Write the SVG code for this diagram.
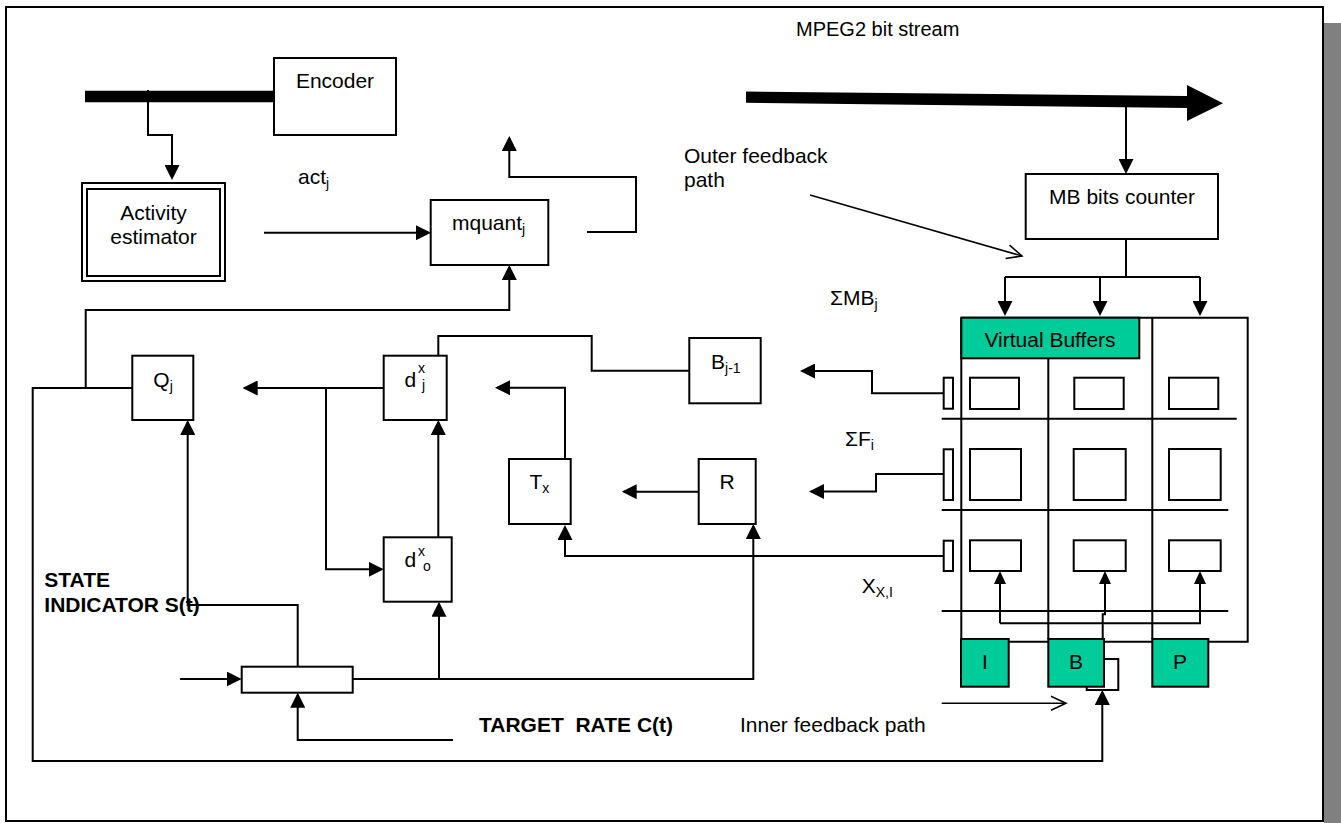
<svg xmlns="http://www.w3.org/2000/svg" width="1341" height="823" viewBox="0 0 1341 823">
<style>
text{font-family:"Liberation Sans",Arial,sans-serif;font-size:21px;fill:#000}
.b{font-weight:bold}
.s{font-size:14px}
.m{text-anchor:middle}
.box{fill:#fff;stroke:#000;stroke-width:2}
.g{fill:#00CC99;stroke:#000;stroke-width:2}
.ln{fill:none;stroke:#000;stroke-width:2}
.a{fill:none;stroke:#000;stroke-width:2;marker-end:url(#ah)}
.as{fill:none;stroke:#000;stroke-width:2;marker-end:url(#ahs)}
.ao{fill:none;stroke:#000;stroke-width:1.5;marker-end:url(#aho)}
</style>
<defs>
<marker id="ah" markerUnits="userSpaceOnUse" markerWidth="15" markerHeight="15" viewBox="0 0 15 15" refX="13" refY="7.5" orient="auto"><path d="M0,0 L15,7.5 L0,15 z" fill="#000"/></marker>
<marker id="ahs" markerUnits="userSpaceOnUse" markerWidth="13" markerHeight="12" viewBox="0 0 13 12" refX="11" refY="6" orient="auto"><path d="M0,0 L13,6 L0,12 z" fill="#000"/></marker>
<marker id="aho" markerUnits="userSpaceOnUse" markerWidth="18" markerHeight="16" viewBox="0 0 18 16" refX="16" refY="8" orient="auto"><path d="M1,1 L16,8 L1,15" fill="none" stroke="#000" stroke-width="1.5"/></marker>
</defs>
<rect x="0" y="0" width="1341" height="823" fill="#fff"/>
<rect x="1324" y="23" width="17" height="800" fill="#808080"/>
<rect x="6" y="7" width="1317" height="814" fill="#fff" stroke="#000" stroke-width="2"/>

<g id="connectors">
<line x1="85" y1="96.5" x2="275" y2="96.5" stroke="#000" stroke-width="11.5"/>
<polygon points="746,91.5 1187,96 1187,85 1223,103.3 1187,121 1187,108 746,102.8" fill="#000"/>
<path class="a" d="M148,90 V135 H172 V178"/>
<path class="a" d="M264,232.7 H429"/>
<path class="a" d="M587,232 H636 V177 H509.3 V138"/>
<path class="a" d="M1126,103 V172"/>
<path class="ln" d="M1126,239 V277 M1005,277 H1200"/>
<path class="a" d="M1005,277 V314"/>
<path class="a" d="M1100,277 V314"/>
<path class="a" d="M1200,277 V314"/>
<path class="ao" d="M810,195 L1022,256"/>
<path class="a" d="M943.7,393.3 H872 V371 H802"/>
<path class="a" d="M943.7,474 H876 V491.5 H811"/>
<path class="a" d="M943.7,556 H565 V527"/>
<path class="ln" d="M689.3,370.7 H591.7 V336 H438.3 V355.7"/>
<path class="a" d="M565,459 V387.7 H497"/>
<path class="a" d="M698.7,491.7 H623.7"/>
<path class="a" d="M383.7,388 H244.7"/>
<path class="a" d="M326,388 V569.3 H381.7"/>
<path class="a" d="M438.3,537.3 V422"/>
<path class="a" d="M132.3,388 H32.7 V761 H1102.3 V692"/>
<path class="a" d="M85.7,388 V310 H509.3 V267"/>
<path class="a" d="M297.7,666.7 V605 H187.7 V422"/>
<path class="a" d="M180,679 H239.7"/>
<path class="a" d="M453,740 H297.7 V694.7"/>
<path class="a" d="M352.7,679 H753.3 V526"/>
<path class="a" d="M439,679 V603.7"/>
<path class="ao" d="M941.7,703.3 H1066"/>
<path class="as" d="M1000,623.3 V573"/>
<path class="as" d="M1000,623.3 H1200 V573"/>
<path class="as" d="M1102.7,639 V614.3 H1105 V573"/>
<path class="ln" d="M1104,659 H1118.3 V690 H1086.7 V686.7"/>
<path class="ln" d="M961.3,317.7 H1247.7 V641.7 H1208.3 M961.3,317.7 V639 M1048.3,358 V639 M1152.3,317.7 V639 M1008.7,641.7 H1048.3 M1104,641.7 H1152.3"/>
<path class="ln" d="M941.7,418.7 H1236.7 M941.7,510 H1228.3 M941.7,611 H1228.3"/>
</g>

<g id="encoder"><rect class="box" x="274" y="58" width="122" height="77"/><text x="335" y="88" class="m">Encoder</text></g>
<g id="activity-estimator"><rect class="box" x="82" y="183" width="143" height="98"/><rect class="box" x="87" y="189" width="133" height="87"/><text x="153.5" y="220" class="m">Activity</text><text x="153.5" y="244" class="m">estimator</text></g>
<g id="mquant"><rect class="box" x="430.7" y="200" width="117.6" height="65"/><text x="452" y="230">mquant<tspan class="s" dy="4">j</tspan></text></g>
<g id="mb-bits-counter"><rect class="box" x="1025.7" y="174" width="192.3" height="65"/><text x="1122" y="204" class="m">MB bits counter</text></g>
<g id="qj"><rect class="box" x="132.3" y="355.7" width="61" height="64.3"/><text x="153.3" y="386.7">Q<tspan class="s" dy="4">j</tspan></text></g>
<g id="dxj"><rect class="box" x="383.7" y="355.7" width="63" height="64.3"/><text x="404.5" y="386.7">d</text><text x="418" y="373" class="s">x</text><text x="422" y="390" class="s">j</text></g>
<g id="bj1"><rect class="box" x="689.3" y="338" width="71.4" height="65.3"/><text x="711" y="369">B<tspan class="s" dy="4">j-1</tspan></text></g>
<g id="tx"><rect class="box" x="509" y="459" width="61.7" height="65"/><text x="529.5" y="489">T<tspan class="s" dy="4">x</tspan></text></g>
<g id="r"><rect class="box" x="698.7" y="459" width="57" height="65"/><text x="727" y="489" class="m">R</text></g>
<g id="dxo"><rect class="box" x="383.7" y="537.3" width="68" height="64.4"/><text x="404.5" y="566.7">d</text><text x="418" y="556" class="s">x</text><text x="423" y="571" class="s">o</text></g>
<g id="state-switch"><rect class="box" x="241.7" y="666.7" width="111" height="26"/></g>
<g id="virtual-buffers">
<rect class="g" x="961.3" y="317.7" width="178" height="40.6"/><text x="1050" y="347" class="m">Virtual Buffers</text>
<rect class="box" x="943.7" y="377.7" width="9.3" height="31"/>
<rect class="box" x="943.7" y="449.3" width="9.3" height="50.7"/>
<rect class="box" x="943.7" y="540.7" width="9.3" height="30.3"/>
<rect class="box" x="970" y="377.7" width="49" height="31.3"/>
<rect class="box" x="1074.3" y="377.7" width="49.4" height="31.3"/>
<rect class="box" x="1169" y="377.7" width="49.3" height="31.3"/>
<rect class="box" x="970" y="449" width="51" height="51"/>
<rect class="box" x="1073.7" y="449" width="52" height="51"/>
<rect class="box" x="1169" y="449" width="51.7" height="51"/>
<rect class="box" x="970" y="540.3" width="51" height="30.7"/>
<rect class="box" x="1073.7" y="540.3" width="52" height="30.7"/>
<rect class="box" x="1169" y="540.3" width="51.7" height="30.7"/>
</g>
<g id="frame-i"><rect class="g" x="961" y="639" width="47.7" height="47.7"/><text x="985" y="668.5" class="m">I</text></g>
<g id="frame-b"><rect class="g" x="1048.3" y="639" width="55.7" height="47.7"/><text x="1076" y="668.5" class="m">B</text></g>
<g id="frame-p"><rect class="g" x="1152.3" y="639" width="56" height="47.7"/><text x="1180" y="668.5" class="m">P</text></g>

<g id="labels">
<text x="796" y="36" style="font-size:20px">MPEG2 bit stream</text>
<text x="298" y="184">act<tspan class="s" dy="4">j</tspan></text>
<text x="684" y="163">Outer feedback</text>
<text x="684" y="187">path</text>
<text x="830" y="305">ΣMB<tspan class="s" dy="4">j</tspan></text>
<text x="845" y="445.7">ΣF<tspan class="s" dy="4">i</tspan></text>
<text x="861.7" y="593">X<tspan class="s" dy="4">X,I</tspan></text>
<text x="44.3" y="586.7" class="b">STATE</text>
<text x="44.3" y="612.3" class="b">INDICATOR S(t)</text>
<text x="479" y="731.7" class="b" style="white-space:pre">TARGET  RATE C(t)</text>
<text x="740" y="731.7">Inner feedback path</text>
</g>
</svg>
